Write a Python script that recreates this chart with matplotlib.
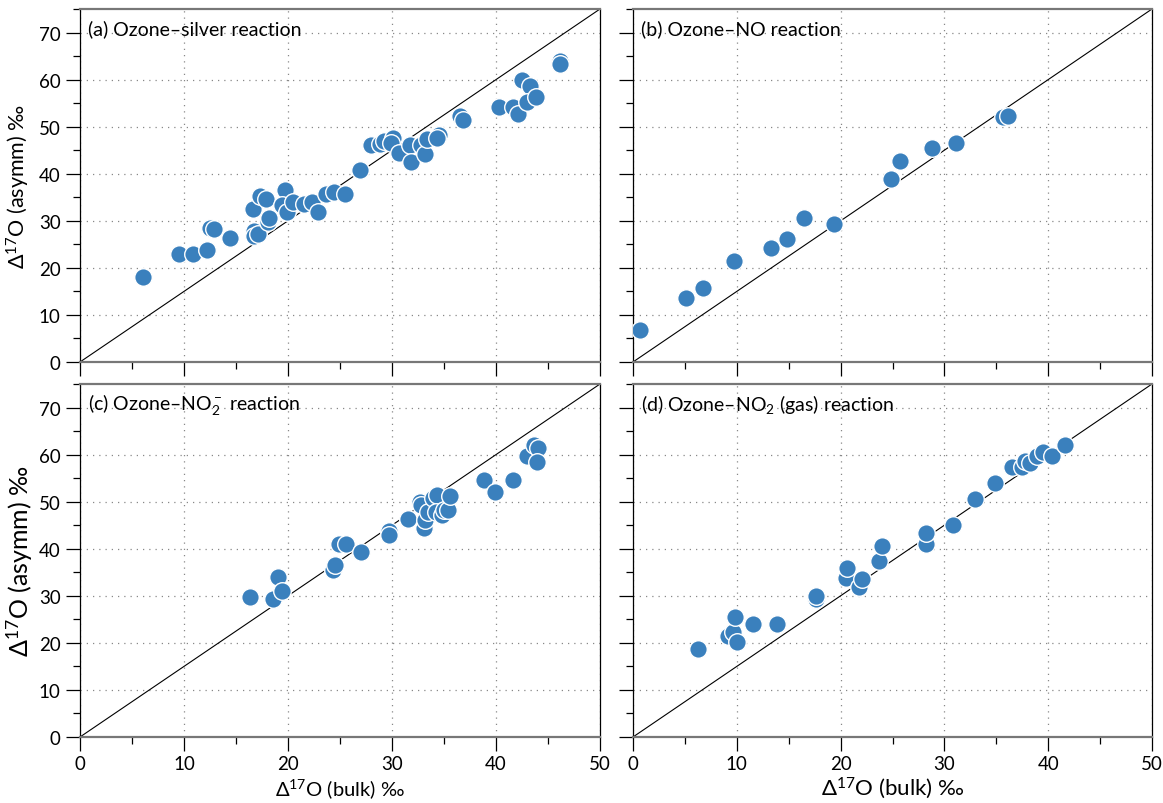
import numpy as np
import matplotlib.pyplot as plt
from matplotlib.ticker import MultipleLocator

plt.rcParams['font.family'] = ['Lato', 'DejaVu Sans']
plt.rcParams['mathtext.fontset'] = 'custom'
plt.rcParams['mathtext.rm'] = 'Lato'
plt.rcParams['mathtext.it'] = 'Lato'

# (a) Ozone-silver reaction
bulk_a = [6.1, 9.5, 10.9, 12.2, 12.5, 12.9, 14.4, 16.6, 16.7, 16.7, 17.1, 17.3, 17.9,
          18.1, 18.2, 19.7, 19.4, 19.9, 20.5, 21.5, 22.3, 22.9, 23.7, 24.4, 25.5,
          26.9, 28.0, 28.8, 29.2, 30.1, 29.9, 30.7, 31.7, 31.8, 32.8, 33.2, 33.4,
          34.5, 34.3, 36.5, 36.8, 40.3, 41.6, 42.1, 42.5, 43.3, 43.0, 43.8, 46.2, 46.2]
asym_a = [18.0, 22.9, 22.9, 23.9, 28.4, 28.3, 26.3, 32.6, 27.8, 26.8, 27.2, 35.3, 34.6,
          29.7, 30.7, 36.6, 33.4, 31.9, 34.1, 33.6, 34.1, 31.8, 35.8, 36.2, 35.8,
          40.7, 46.0, 46.3, 47.0, 47.5, 46.5, 44.3, 46.0, 42.4, 46.1, 44.1, 47.4,
          48.2, 47.5, 52.2, 51.5, 54.1, 54.1, 52.7, 60.0, 58.7, 55.2, 56.2, 64.0, 63.3]

# (b) Ozone-NO reaction
bulk_b = [0.7, 5.1, 6.7, 9.7, 13.3, 14.8, 16.5, 19.4, 24.9, 25.7, 28.8, 31.1, 35.6, 36.1]
asym_b = [6.7, 13.5, 15.7, 21.4, 24.3, 26.1, 30.5, 29.4, 38.8, 42.7, 45.4, 46.5, 52.1, 52.3]

# (c) Ozone-NO2- reaction
bulk_c = [16.3, 18.6, 19.0, 19.4, 24.3, 24.5, 24.9, 25.6, 27.0, 29.7, 29.7, 31.5, 32.7,
          32.8, 33.1, 33.2, 33.5, 33.9, 34.3, 34.2, 34.8, 35.0, 35.4, 35.6, 38.8,
          39.9, 41.6, 43.0, 43.7, 44.0, 43.9]
asym_c = [29.7, 29.4, 34.1, 31.0, 35.4, 36.6, 41.0, 41.0, 39.3, 43.7, 42.9, 46.4, 50.0,
          49.3, 44.4, 46.1, 47.7, 50.7, 51.5, 47.8, 47.1, 48.2, 48.2, 51.2, 54.7,
          52.1, 54.6, 59.7, 62.0, 61.3, 58.5]

# (d) Ozone-NO2 (gas) reaction
bulk_d = [6.3, 9.2, 9.6, 9.8, 10.0, 11.6, 13.9, 17.6, 17.6, 20.5, 20.6, 21.8, 22.1, 23.7,
          24.0, 28.2, 28.2, 30.8, 32.9, 34.9, 36.5, 37.5, 37.8, 38.2, 38.9, 39.5,
          40.4, 41.6]
asym_d = [18.8, 21.4, 22.3, 25.5, 20.2, 24.1, 24.1, 29.4, 30.0, 33.8, 36.0, 31.9, 33.5,
          37.4, 40.6, 41.1, 43.3, 45.0, 50.6, 53.9, 57.3, 57.4, 58.7, 58.2, 59.6,
          60.6, 59.6, 62.1]

titles = ['(a) Ozone\u2013silver reaction', '(b) Ozone\u2013NO reaction',
          '(c) Ozone\u2013NO$_2^-$ reaction', '(d) Ozone\u2013NO$_2$ (gas) reaction']
bulk = [bulk_a, bulk_b, bulk_c, bulk_d]
asym = [asym_a, asym_b, asym_c, asym_d]

W, H = 1163, 804
fig = plt.figure(figsize=(W / 100, H / 100), dpi=100)
boxes = [(80, 10, 600, 363), (633, 10, 1152, 363),
         (80, 385, 600, 738), (633, 385, 1152, 738)]

for i, (x0, y0, x1, y1) in enumerate(boxes):
    ax = fig.add_axes([x0 / W, 1 - y1 / H, (x1 - x0) / W, (y1 - y0) / H])
    ax.set_xlim(0, 50)
    ax.set_ylim(0, 75)

    # 1:1 line for the asymmetric position (slope 1.5)
    xl = np.array([0, 50])
    ax.plot(xl, 1.5 * xl, color='black', lw=0.8, zorder=2)
    ax.scatter(bulk[i], asym[i], s=160, color='#3a80bd', edgecolor='white',
               linewidth=1.0, zorder=3)

    ax.xaxis.set_major_locator(MultipleLocator(10))
    ax.xaxis.set_minor_locator(MultipleLocator(5))
    ax.yaxis.set_major_locator(MultipleLocator(10))
    ax.yaxis.set_minor_locator(MultipleLocator(5))
    ax.tick_params(which='major', direction='out', length=10, width=0.9,
                   color='black', labelsize=13.5, pad=4)
    ax.tick_params(which='minor', direction='out', length=5, width=0.9, color='black')
    ax.tick_params(axis='x', pad=3)
    ax.grid(True, which='major', color='#888888', lw=0.9, linestyle=(0, (1, 4)))

    for side in ['left', 'right']:
        ax.spines[side].set_color('black')
        ax.spines[side].set_linewidth(0.9)
    for side in ['top', 'bottom']:
        ax.spines[side].set_color('#777777')
        ax.spines[side].set_linewidth(1.6)

    ax.text(0.016, 0.945, titles[i], transform=ax.transAxes, fontsize=14,
            va='center', ha='left')

    if i < 2:
        ax.tick_params(labelbottom=False)
    if i % 2 == 1:
        ax.tick_params(labelleft=False)

    if i == 0:
        ax.set_ylabel('\u0394$^{17}$O (asymm) \u2030', fontsize=15.5, labelpad=5)
    if i == 2:
        ax.set_ylabel('\u0394$^{17}$O (asymm) \u2030', fontsize=18, labelpad=3)
        ax.set_xlabel('\u0394$^{17}$O (bulk) \u2030', fontsize=14.5, labelpad=3)
    if i == 3:
        ax.set_xlabel('\u0394$^{17}$O (bulk) \u2030', fontsize=16, labelpad=2)

fig.savefig('out.png', dpi=100)
